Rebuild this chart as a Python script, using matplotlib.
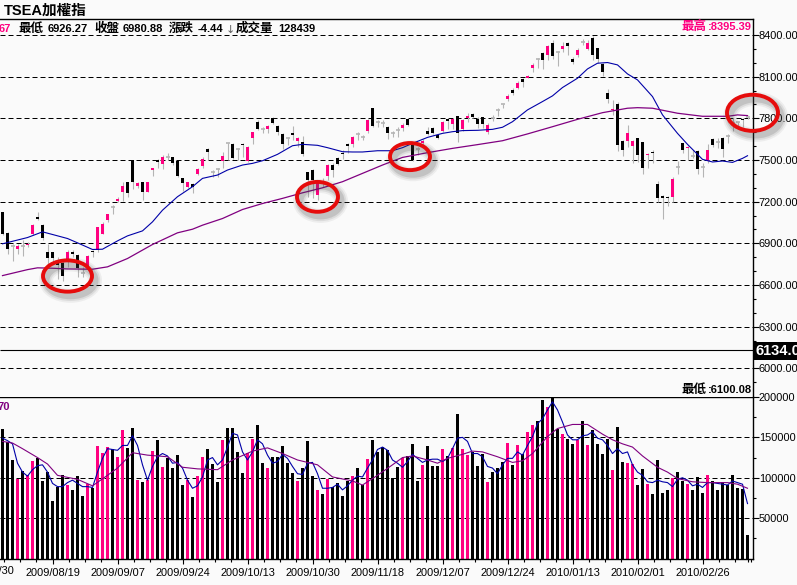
import matplotlib
matplotlib.use("Agg")
import matplotlib.pyplot as plt
from matplotlib.patches import Ellipse, Rectangle

W, H = 797, 585
BG = "#fafafa"
PINK = "#ff0080"
GREY = "#b4b4b4"
BLUE = "#0000a8"
PURPLE = "#800080"
FONT = ["Liberation Sans", "Noto Sans CJK TC"]

# daily candles, TSEA index
opens = [7127, 6978, 6882, 6863, 6882, 6887, 6964, 7091, 7031, 6839,
         6839, 6762, 6762, 6784, 6839, 6815, 6690, 6731, 6846, 6851,
         6971, 7067, 7163, 7204, 7272, 7344, 7500, 7313, 7339, 7272,
         7428, 7500, 7471, 7519, 7522, 7495, 7373, 7303, 7327, 7397,
         7459, 7582, 7416, 7435, 7493, 7620, 7613, 7579, 7618, 7493,
         7656, 7777, 7724, 7724, 7805, 7745, 7688, 7656, 7697, 7640,
         7627, 7416, 7428, 7248, 7332, 7385, 7464, 7517, 7553, 7613,
         7615, 7685, 7663, 7709, 7873, 7772, 7769, 7740, 7692, 7716,
         7728, 7793, 7615, 7579, 7620, 7709, 7733, 7680, 7712, 7796,
         7760, 7820, 7721, 7801, 7832, 7796, 7808, 7704, 7801, 7861,
         7902, 7940, 8005, 8019, 8084, 8094, 8161, 8226, 8274, 8253,
         8341, 8281, 8298, 8341, 8231, 8257, 8351, 8298, 8382, 8310,
         8190, 7986, 7861, 7902, 7640, 7637, 7601, 7656, 7632, 7534,
         7560, 7325, 7243, 7236, 7231, 7452, 7620, 7587, 7531, 7565,
         7452, 7495, 7649, 7632, 7661, 7675, 7764, 7772, 7798, 7813]
highs = [7127, 6985, 6899, 6899, 6923, 6911, 7043, 7127, 7043, 6899,
         6839, 6803, 6779, 6851, 6851, 6827, 6731, 6815, 6851, 7019,
         7055, 7115, 7175, 7236, 7344, 7344, 7500, 7344, 7344, 7344,
         7445, 7505, 7536, 7553, 7524, 7495, 7373, 7344, 7332, 7440,
         7524, 7587, 7428, 7440, 7560, 7625, 7620, 7584, 7620, 7601,
         7704, 7789, 7740, 7752, 7813, 7752, 7692, 7663, 7745, 7663,
         7673, 7416, 7433, 7356, 7368, 7469, 7476, 7524, 7572, 7620,
         7673, 7704, 7680, 7793, 7873, 7789, 7789, 7745, 7709, 7740,
         7764, 7801, 7620, 7596, 7649, 7740, 7740, 7688, 7784, 7801,
         7801, 7820, 7793, 7837, 7837, 7813, 7813, 7764, 7825, 7873,
         7906, 7974, 8017, 8070, 8094, 8113, 8197, 8233, 8281, 8329,
         8365, 8286, 8349, 8353, 8245, 8305, 8370, 8361, 8395, 8310,
         8197, 8012, 7933, 7916, 7644, 7752, 7644, 7661, 7632, 7553,
         7572, 7349, 7248, 7243, 7380, 7493, 7625, 7601, 7572, 7572,
         7476, 7615, 7656, 7661, 7668, 7685, 7801, 7776, 7801, 7820]
lows = [6960, 6827, 6774, 6827, 6810, 6875, 6959, 7067, 6923, 6731,
        6767, 6647, 6630, 6731, 6803, 6659, 6659, 6731, 6803, 6839,
        6964, 7055, 7115, 7200, 7204, 7236, 7291, 7296, 7212, 7267,
        7387, 7440, 7435, 7500, 7464, 7380, 7279, 7296, 7260, 7392,
        7440, 7500, 7380, 7380, 7440, 7500, 7505, 7500, 7524, 7488,
        7615, 7716, 7692, 7692, 7760, 7680, 7577, 7608, 7644, 7596,
        7531, 7236, 7224, 7212, 7308, 7356, 7380, 7464, 7507, 7548,
        7596, 7644, 7644, 7697, 7736, 7736, 7740, 7649, 7663, 7668,
        7712, 7745, 7495, 7536, 7608, 7680, 7688, 7649, 7704, 7721,
        7721, 7632, 7712, 7777, 7801, 7728, 7728, 7685, 7784, 7820,
        7873, 7926, 7969, 8012, 8029, 8089, 8137, 8161, 8156, 8221,
        8228, 8180, 8281, 8257, 8192, 8240, 8329, 8293, 8221, 8197,
        8106, 7914, 7825, 7567, 7529, 7596, 7481, 7488, 7397, 7440,
        7476, 7200, 7075, 7171, 7195, 7399, 7548, 7500, 7512, 7399,
        7380, 7476, 7596, 7584, 7524, 7620, 7712, 7728, 7740, 7793]
closes = [6966, 6858, 6882, 6882, 6882, 6897, 7031, 7079, 6942, 6798,
          6798, 6743, 6663, 6839, 6822, 6726, 6690, 6810, 6837, 7019,
          7039, 7108, 7163, 7221, 7313, 7260, 7339, 7337, 7267, 7344,
          7440, 7488, 7522, 7519, 7481, 7385, 7332, 7344, 7303, 7433,
          7510, 7558, 7416, 7435, 7531, 7620, 7512, 7579, 7608, 7596,
          7700, 7721, 7724, 7748, 7765, 7704, 7615, 7656, 7680, 7656,
          7541, 7356, 7356, 7337, 7332, 7464, 7428, 7471, 7543, 7601,
          7668, 7685, 7663, 7789, 7745, 7772, 7769, 7697, 7692, 7716,
          7755, 7752, 7500, 7579, 7640, 7685, 7692, 7661, 7777, 7784,
          7796, 7692, 7789, 7820, 7813, 7757, 7757, 7752, 7801, 7861,
          7902, 7964, 7981, 8058, 8060, 8108, 8185, 8226, 8221, 8322,
          8250, 8281, 8322, 8322, 8204, 8289, 8351, 8341, 8257, 8228,
          8132, 7938, 7868, 7608, 7572, 7692, 7640, 7536, 7440, 7546,
          7553, 7224, 7228, 7224, 7361, 7452, 7572, 7596, 7531, 7435,
          7452, 7572, 7608, 7632, 7579, 7675, 7764, 7772, 7789, 7813]

# moving averages on price, read at these bar numbers
ma_fast_idx = [0, 5, 8, 10, 13, 15, 18, 20, 23, 25, 28, 30, 32, 35, 38, 40, 43, 45, 48, 50,
               52, 55, 58, 60, 63, 65, 68, 70, 72, 75, 78, 80, 82, 85, 88, 90, 92, 95, 98,
               100, 102, 105, 108, 110, 112, 115, 117, 119, 121, 123, 125, 127, 130, 132,
               135, 137, 140, 142, 144, 146, 148, 149]
ma_fast = [6897, 6942, 6983, 6964, 6935, 6904, 6856, 6858, 6918, 6954, 6990, 7055, 7139,
           7236, 7308, 7368, 7392, 7428, 7464, 7476, 7495, 7541, 7603, 7613, 7606, 7589,
           7560, 7558, 7558, 7567, 7567, 7589, 7620, 7663, 7692, 7704, 7712, 7714, 7721,
           7736, 7776, 7861, 7921, 7962, 8022, 8089, 8156, 8197, 8202, 8185, 8120, 8077,
           7957, 7825, 7692, 7613, 7505, 7486, 7493, 7483, 7512, 7531]
ma_slow_idx = [0, 5, 7, 10, 13, 18, 21, 25, 30, 35, 38, 40, 44, 48, 52, 56, 60, 64, 68, 72,
               76, 80, 85, 90, 95, 100, 105, 110, 115, 120, 125, 127, 130, 135, 140, 145,
               147, 149]
ma_slow = [6668, 6711, 6724, 6721, 6716, 6714, 6731, 6791, 6892, 6976, 7002, 7031, 7079,
           7144, 7187, 7224, 7264, 7300, 7344, 7404, 7464, 7519, 7553, 7584, 7611, 7639,
           7688, 7740, 7793, 7841, 7873, 7877, 7873, 7837, 7815, 7815, 7825, 7820]

# traded volume per day
volumes = [160, 144, 122, 99, 108, 103, 121, 125, 96, 107,
           71, 89, 103, 91, 85, 102, 78, 92, 87, 139,
           131, 138, 136, 126, 159, 137, 161, 97, 95, 97,
           133, 147, 113, 125, 112, 128, 91, 97, 76, 102,
           126, 135, 117, 95, 147, 161, 161, 132, 106, 131,
           148, 165, 118, 112, 126, 126, 139, 118, 106, 96,
           112, 145, 102, 85, 80, 99, 88, 93, 77, 96,
           102, 112, 91, 123, 147, 132, 138, 134, 100, 113,
           124, 127, 142, 96, 116, 139, 114, 114, 135, 127,
           137, 179, 135, 128, 132, 114, 130, 95, 107, 112,
           119, 143, 116, 140, 129, 157, 165, 170, 196, 188,
           200, 160, 154, 148, 142, 147, 170, 140, 159, 142,
           129, 148, 109, 163, 119, 118, 117, 91, 111, 92,
           80, 122, 81, 85, 100, 107, 96, 92, 85, 101,
           81, 103, 96, 85, 95, 91, 104, 87, 86, 29]
vol_fast = [149, 146, 142, 118, 107, 102, 110, 115, 116, 107,
            93, 89, 89, 94, 97, 93, 89, 89, 88, 107,
            124, 136, 135, 134, 140, 140, 152, 140, 116, 97,
            114, 126, 130, 127, 118, 119, 112, 97, 87, 90,
            101, 122, 125, 116, 122, 138, 155, 153, 132, 122,
            132, 147, 142, 128, 118, 120, 129, 124, 114, 105,
            104, 118, 119, 105, 87, 87, 88, 92, 85, 90,
            97, 102, 101, 112, 122, 135, 138, 134, 122, 118,
            113, 120, 129, 124, 119, 122, 123, 123, 120, 124,
            136, 149, 150, 145, 130, 130, 126, 114, 112, 105,
            116, 124, 124, 132, 128, 140, 151, 167, 173, 184,
            194, 184, 169, 153, 147, 147, 152, 153, 157, 149,
            147, 140, 130, 136, 130, 132, 116, 107, 103, 95,
            94, 97, 95, 94, 89, 98, 100, 97, 90, 92,
            88, 94, 94, 93, 92, 91, 96, 94, 92, 68]
vol_slow_idx = [0, 2, 4, 7, 9, 11, 15, 18, 21, 23, 26, 29, 33, 36, 39, 43, 46, 50, 53, 56,
                59, 63, 66, 70, 72, 75, 78, 80, 82, 85, 87, 89, 92, 94, 96, 99, 102, 104,
                106, 109, 111, 114, 117, 120, 122, 124, 126, 128, 131, 133, 135, 138, 141,
                145, 147, 149]
vol_slow = [145, 143, 136, 125, 117, 103, 98, 90, 103, 112, 131, 128, 126, 113, 111, 110,
            122, 133, 137, 130, 122, 116, 101, 96, 91, 103, 116, 125, 127, 122, 118, 124,
            129, 133, 132, 126, 119, 121, 130, 151, 161, 166, 166, 154, 147, 142, 138, 127,
            113, 107, 99, 95, 94, 94, 92, 87]

# labelled dates on the bottom axis
date_idx = [-3, 10, 23, 36, 49, 62, 75, 88, 101, 114, 127, 140]
date_labels = ["2009/07/30", "2009/08/19", "2009/09/07", "2009/09/24", "2009/10/13",
               "2009/10/30", "2009/11/18", "2009/12/07", "2009/12/24", "2010/01/13",
               "2010/02/01", "2010/02/26"]

# hand drawn circles: bar number, price
circle_idx = [13, 63, 81.5, 150]
circle_price = [6665, 7235, 7525, 7840]
circle_w = [9.8, 8.2, 8, 10.2]
circle_h = [225, 215, 195, 260]

price_ticks = [8400, 8100, 7800, 7500, 7200, 6900, 6600, 6300, 6000]
vol_ticks = [200, 150, 100, 50]


def px_axes(fig, left, top, right, bottom):
    return fig.add_axes([left / W, 1 - bottom / H, (right - left) / W, (bottom - top) / H])


plt.rcParams["font.family"] = FONT
fig = plt.figure(figsize=(W / 100, H / 100), dpi=100, facecolor=BG)
ax = px_axes(fig, 0, 18.5, 752.5, 397)
ax2 = px_axes(fig, 0, 397, 752.5, 558.5)
days = list(range(len(closes)))

# price panel
ax.set_facecolor(BG)
ax.set_xlim(-0.5, 150)
ax.set_ylim(5794, 8519)
ax.hlines(price_ticks, -0.5, 150, colors="black", lw=0.72, linestyles=(0, (5, 3)), zorder=1)
ax.hlines(6134.05, -0.5, 150, colors="black", lw=0.8, zorder=1)
ax.vlines(days, lows, highs, colors=GREY, lw=0.8, zorder=2)
for i in days:
    o, c = opens[i], closes[i]
    if o == c:
        ax.hlines(c, i - 0.4, i + 0.4, colors=GREY, lw=1.2, zorder=3)
    else:
        col = PINK if c > o else "black"
        ax.bar(i, abs(c - o), bottom=min(o, c), width=0.62, color=col, lw=0, zorder=3)
ax.plot(ma_fast_idx, ma_fast, color=BLUE, lw=0.8, zorder=4)
ax.plot(ma_slow_idx, ma_slow, color=PURPLE, lw=0.9, zorder=4)

for x, y, w, h in zip(circle_idx, circle_price, circle_w, circle_h):
    # soft shadow first, then the red ring
    for lw, a in [(10, 0.07), (7.5, 0.1), (5, 0.16)]:
        ax.add_patch(Ellipse((x + 0.6, y - 30), w, h, fill=False, ec="#444444", lw=lw,
                             alpha=a, clip_on=False, zorder=6))
    ax.add_patch(Ellipse((x, y), w, h, fill=False, ec="#e60c0c", lw=2.8, clip_on=False, zorder=7))

ax.set_xticks([])
ax.yaxis.tick_right()
ax.set_yticks(price_ticks)
ax.set_yticklabels([f"{p:.2f}" for p in price_ticks])
ax.set_yticks([p for p in range(5900, 8500, 100) if p not in price_ticks], minor=True)
ax.tick_params(axis="y", which="major", length=4, width=0.8, pad=0.5, labelsize=7.9)
ax.tick_params(axis="y", which="minor", length=2, width=0.8)
for s in ["left", "bottom"]:
    ax.spines[s].set_visible(False)
for s in ["top", "right"]:
    ax.spines[s].set_linewidth(1.0)

# volume panel
ax2.set_facecolor(BG)
ax2.set_xlim(-0.5, 150)
ax2.set_ylim(0, 200)
ax2.hlines(vol_ticks, -0.5, 150, colors="black", lw=0.72, linestyles=(0, (5, 3)), zorder=1)
bar_cols = [PINK if closes[i] > opens[i] else "black" for i in days]
ax2.bar(days, volumes, width=0.62, color=bar_cols, lw=0, zorder=2)
ax2.plot(days, vol_fast, color=BLUE, lw=0.8, zorder=3)
ax2.plot(vol_slow_idx, vol_slow, color=PURPLE, lw=0.8, zorder=3)
ax2.axhline(200, color="black", lw=1.0, zorder=1)

ax2.yaxis.tick_right()
ax2.set_yticks(vol_ticks)
ax2.set_yticklabels([str(v * 1000) for v in vol_ticks])
ax2.set_yticks([175, 125, 75, 25], minor=True)
ax2.tick_params(axis="y", which="major", length=4, width=0.8, pad=0.5, labelsize=7.9)
ax2.tick_params(axis="y", which="minor", length=2, width=0.8)
ax2.set_xticks(date_idx[1:])
ax2.set_xticklabels(date_labels[1:])
ax2.set_xticks([k * 3.25 - 3 for k in range(0, 48) if k % 4 != 0] + [149], minor=True)
ax2.tick_params(axis="x", which="major", length=3.5, width=0.8, pad=3, labelsize=7.9)
ax2.tick_params(axis="x", which="minor", length=2.5, width=0.8)
ax2.spines["left"].set_visible(False)
ax2.spines["top"].set_visible(False)
for s in ["bottom", "right"]:
    ax2.spines[s].set_linewidth(1.0)


# header and labels
def put(x, y, s, **kw):
    fig.text(x / W, 1 - y / H, s, va="center", family=FONT, fontweight="bold", **kw)


put(4, 11, "TSEA加權指", fontsize=10.5, color="black")
put(-1, 29, "67", fontsize=8, color=PINK)
put(19, 29, "最低", fontsize=9, color="black")
put(48, 29, "6926.27", fontsize=8, color="black")
put(94, 29, "收盤", fontsize=9, color="black")
put(123, 29, "6980.88", fontsize=8, color="black")
put(169, 29, "漲跌", fontsize=9, color="black")
put(198, 29, "-4.44", fontsize=8, color="black")
fig.text(226 / W, 1 - 30 / H, "↓", fontsize=8, color="#606060", va="center", family="DejaVu Sans")
put(236, 29, "成交量", fontsize=9, color="black")
put(278, 29, "128439", fontsize=8, color="black")
put(682, 27, "最高", fontsize=9, color=PINK)
put(708, 27, ":8395.39", fontsize=8, color=PINK)
put(682, 390, "最低", fontsize=9, color="black")
put(708, 390, ":6100.08", fontsize=8, color="black")
put(-3, 407, "70", fontsize=8, color=PURPLE)

fig.add_artist(Rectangle((752.5 / W, 1 - 360 / H), 45 / W, 18.5 / H, transform=fig.transFigure,
                         fc="black", ec="none", zorder=8))
fig.text(755 / W, 1 - 351 / H, "6134.05", fontsize=10.5, fontweight="bold", color="white",
         va="center", family=FONT, zorder=9)

fig.text(-13.5 / W, 1 - 571 / H, date_labels[0], fontsize=7.9, ha="center", va="center", family=FONT)

fig.savefig("out.png", dpi=100, facecolor=BG)
